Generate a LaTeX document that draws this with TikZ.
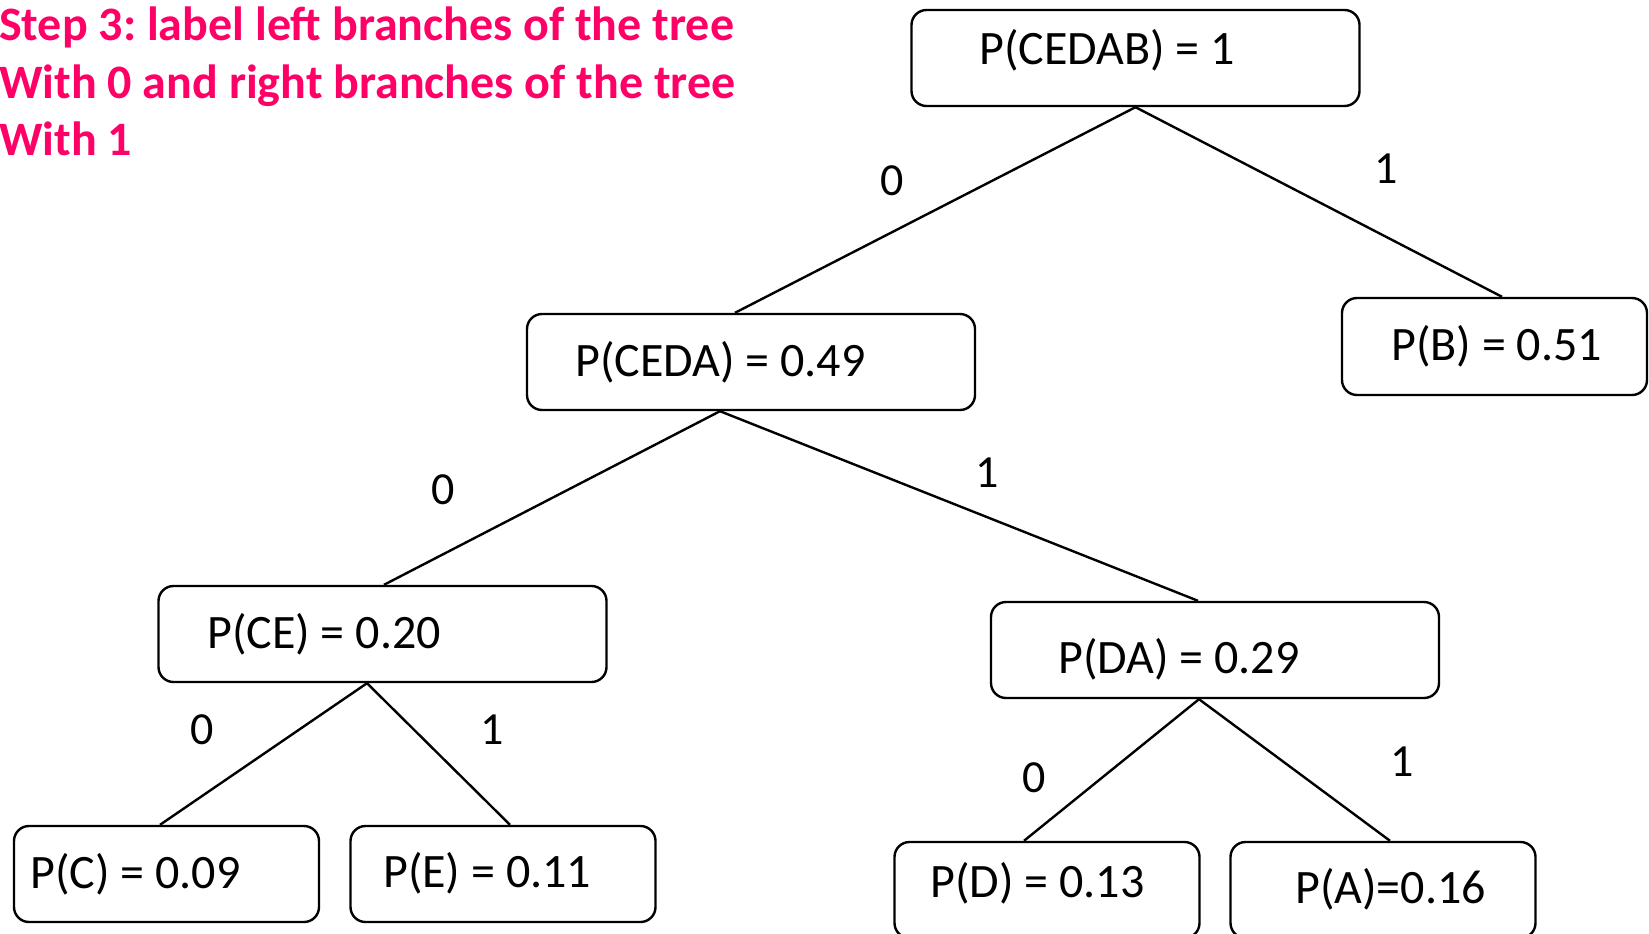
\documentclass[tikz,border=0pt]{standalone}
\usepackage{fontspec}
\setmainfont{Carlito}
\frenchspacing
\definecolor{titlepink}{RGB}{255,0,102}
\tikzset{
  box/.style={draw=black, line width=2.4pt, rounded corners=15pt, rectangle,
    inner sep=0pt, minimum height=96pt},
  bigbox/.style={box, minimum width=448pt},
  smallbox/.style={box, minimum width=305pt},
  txt/.style={anchor=base west, inner sep=0pt, font=\fontsize{48}{57}\selectfont},
  bit/.style={anchor=center, inner sep=0pt, font=\fontsize{46}{55}\selectfont},
  ttl/.style={anchor=base west, inner sep=0pt, text=titlepink,
    font=\fontsize{48}{57}\selectfont\bfseries},
  edge/.style={draw=black, line width=2.4pt}
}
\begin{document}
\begin{tikzpicture}[x=1pt, y=-1pt]
\useasboundingbox (0,0) rectangle (1649,934);
\clip (0,0) rectangle (1649,934);

% title
\node[ttl] (t1) at (-1,41) {Step 3: label left branches of the tree};
\node[ttl] (t2) at (-1,98) {With 0 and right branches of the tree};
\node[ttl] (t3) at (-1,155) {With 1};

% boxes
\node[bigbox] (cedab) at (1135.5,58) {};
\node[bigbox] (ceda) at (751,362) {};
\node[smallbox, minimum height=97pt] (b) at (1494.5,346.5) {};
\node[bigbox] (ce) at (382.5,634) {};
\node[bigbox] (da) at (1215,650) {};
\node[smallbox] (c) at (166.5,874) {};
\node[smallbox] (e) at (503,874) {};
\node[smallbox] (d) at (1047,890) {};
\node[smallbox] (a) at (1383,890) {};

% texts
\node[txt] (tcedab) at (979,65) {P(CEDAB) = 1};
\node[txt] (tb) at (1391,360) {P(B) = 0.51};
\node[txt] (tceda) at (575,376) {P(CEDA) = 0.49};
\node[txt] (tce) at (207,648) {P(CE) = 0.20};
\node[txt] (tda) at (1058,673) {P(DA) = 0.29};
\node[txt] (tc) at (30,888) {P(C) = 0.09};
\node[txt] (te) at (383,887) {P(E) = 0.11};
\node[txt] (td) at (930,897) {P(D) = 0.13};
\node[txt] (ta) at (1295,903) {P(A)=0.16};

% connectors
\draw[edge] (cedab.south) -- ([xshift=-16pt]ceda.north);
\draw[edge] (cedab.south) -- ([xshift=7.5pt]b.north);
\draw[edge] ([xshift=-31pt]ceda.south) -- ([xshift=1.5pt]ce.north);
\draw[edge] ([xshift=-31pt]ceda.south) -- ([xshift=-17pt]da.north);
\draw[edge] ([xshift=-15.5pt]ce.south) -- ([xshift=-6.5pt]c.north);
\draw[edge] ([xshift=-15.5pt]ce.south) -- ([xshift=7pt]e.north);
\draw[edge] ([xshift=-16pt]da.south) -- ([xshift=-23pt]d.north);
\draw[edge] ([xshift=-16pt]da.south) -- ([xshift=7pt]a.north);

% branch labels
\node[bit] (l1) at (892,181) {0};
\node[bit] (l2) at (1386,169) {1};
\node[bit] (l3) at (443,490) {0};
\node[bit] (l4) at (987,473) {1};
\node[bit] (l5) at (202,730) {0};
\node[bit] (l6) at (492,730) {1};
\node[bit] (l7) at (1034,778) {0};
\node[bit] (l8) at (1402,762) {1};
\end{tikzpicture}
\end{document}
